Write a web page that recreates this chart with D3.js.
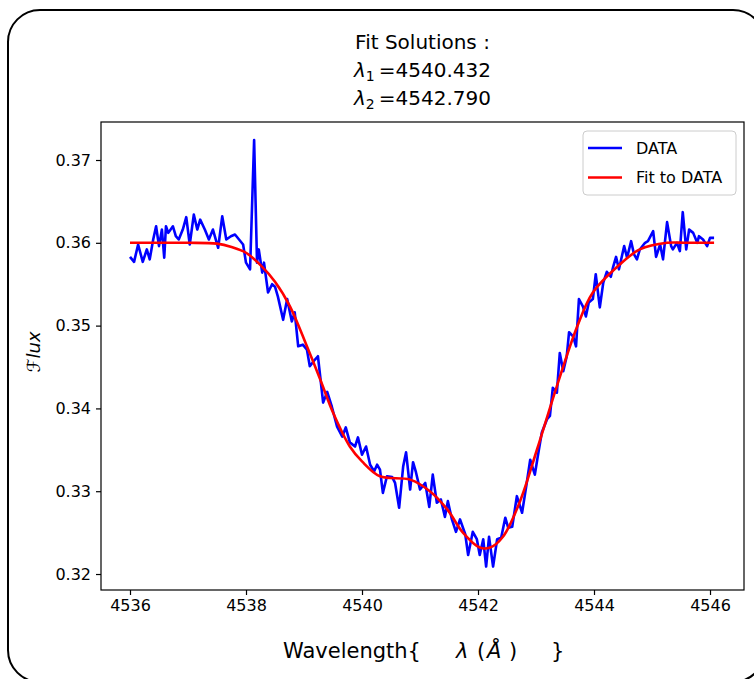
<!DOCTYPE html>
<html><head><meta charset="utf-8">
<script src="https://cdnjs.cloudflare.com/ajax/libs/d3/7.8.5/d3.min.js"></script>
<style>body{margin:0;background:#fff}svg{display:block}text{font-family:"DejaVu Sans",sans-serif;fill:#000}</style>
</head><body><svg id="c" width="754" height="679"></svg>
<script>
const dataWavelength = [4536.00,4536.07,4536.14,4536.22,4536.29,4536.34,4536.40,4536.45,4536.50,4536.55,4536.59,4536.62,4536.66,4536.74,4536.79,4536.84,4536.91,4536.97,4537.03,4537.10,4537.16,4537.21,4537.29,4537.36,4537.43,4537.52,4537.59,4537.66,4537.74,4537.81,4537.88,4537.95,4538.00,4538.07,4538.14,4538.19,4538.22,4538.28,4538.31,4538.38,4538.45,4538.50,4538.55,4538.64,4538.71,4538.79,4538.84,4538.90,4538.98,4539.05,4539.10,4539.19,4539.24,4539.33,4539.40,4539.48,4539.57,4539.66,4539.72,4539.79,4539.88,4539.93,4540.00,4540.07,4540.14,4540.21,4540.26,4540.31,4540.36,4540.43,4540.52,4540.57,4540.64,4540.71,4540.76,4540.83,4540.88,4540.93,4541.00,4541.09,4541.16,4541.22,4541.29,4541.36,4541.43,4541.48,4541.55,4541.62,4541.69,4541.78,4541.83,4541.91,4541.98,4542.03,4542.09,4542.14,4542.19,4542.26,4542.33,4542.40,4542.47,4542.52,4542.59,4542.67,4542.76,4542.84,4542.90,4542.98,4543.03,4543.10,4543.19,4543.24,4543.29,4543.36,4543.41,4543.47,4543.53,4543.57,4543.64,4543.69,4543.74,4543.81,4543.86,4543.91,4543.98,4544.03,4544.10,4544.16,4544.22,4544.29,4544.33,4544.38,4544.43,4544.52,4544.57,4544.64,4544.69,4544.74,4544.79,4544.88,4544.93,4545.02,4545.07,4545.14,4545.19,4545.26,4545.33,4545.36,4545.43,4545.48,4545.53,4545.59,4545.64,4545.71,4545.78,4545.81,4545.88,4545.95,4546.00,4546.07];
const dataFlux = [0.3583,0.3577,0.3598,0.3577,0.3592,0.3580,0.3604,0.3620,0.3596,0.3616,0.3582,0.3620,0.3612,0.3620,0.3608,0.3604,0.3616,0.3631,0.3598,0.3634,0.3616,0.3628,0.3616,0.3604,0.3616,0.3594,0.3632,0.3604,0.3608,0.3610,0.3604,0.3598,0.3576,0.3568,0.3724,0.3576,0.3592,0.3564,0.3576,0.3540,0.3550,0.3547,0.3535,0.3507,0.3532,0.3505,0.3516,0.3475,0.3477,0.3471,0.3451,0.3459,0.3463,0.3407,0.3420,0.3402,0.3378,0.3366,0.3377,0.3359,0.3354,0.3365,0.3344,0.3354,0.3332,0.3324,0.3332,0.3326,0.3298,0.3318,0.3317,0.3310,0.3280,0.3330,0.3347,0.3302,0.3335,0.3323,0.3302,0.3310,0.3281,0.3320,0.3286,0.3290,0.3269,0.3288,0.3266,0.3251,0.3266,0.3248,0.3223,0.3251,0.3242,0.3223,0.3242,0.3209,0.3245,0.3209,0.3242,0.3244,0.3268,0.3256,0.3257,0.3294,0.3274,0.3310,0.3338,0.3320,0.3342,0.3371,0.3387,0.3391,0.3425,0.3419,0.3467,0.3445,0.3463,0.3492,0.3487,0.3475,0.3532,0.3523,0.3511,0.3528,0.3532,0.3562,0.3522,0.3552,0.3565,0.3559,0.3571,0.3583,0.3568,0.3596,0.3582,0.3602,0.3586,0.3580,0.3592,0.3600,0.3602,0.3614,0.3583,0.3598,0.3580,0.3625,0.3596,0.3592,0.3600,0.3590,0.3637,0.3592,0.3616,0.3612,0.3600,0.3608,0.3604,0.3596,0.3606,0.3606];
const fitWavelength = [4536.00,4536.50,4537.00,4537.50,4537.75,4538.00,4538.25,4538.50,4538.76,4539.05,4539.28,4539.50,4539.79,4540.00,4540.31,4540.83,4541.17,4541.47,4541.74,4542.03,4542.21,4542.43,4542.72,4543.02,4543.36,4543.71,4543.98,4544.40,4544.79,4545.26,4545.60,4546.07];
const fitFlux = [0.3600,0.3600,0.3600,0.3599,0.3595,0.3588,0.3573,0.3553,0.3523,0.3475,0.3435,0.3395,0.3354,0.3336,0.3318,0.3314,0.3300,0.3278,0.3250,0.3232,0.3232,0.3245,0.3287,0.3351,0.3427,0.3499,0.3540,0.3571,0.3592,0.3600,0.3600,0.3600];
const xTicks = [4536, 4538, 4540, 4542, 4544, 4546];
const yTicks = [0.32, 0.33, 0.34, 0.35, 0.36, 0.37];
const fitSolutions = [4540.432, 4542.790];
const seriesNames = ["DATA", "Fit to DATA"];
const seriesColors = ["#0000ff", "#ff0000"];

const svg = d3.select("#c");
const W = 754, H = 679;
const P = {left: 101, right: 744, top: 122, bottom: 590};

svg.append("rect").attr("width", W).attr("height", H).attr("fill", "#fff");
// outer rounded frame
svg.append("rect").attr("x", 8).attr("y", 10).attr("width", 757).attr("height", 672)
  .attr("rx", 32).attr("ry", 32).attr("fill", "none").attr("stroke", "#000").attr("stroke-width", 2);

const x = d3.scaleLinear().domain([4535.5, 4546.586]).range([P.left, P.right]);
const y = d3.scaleLinear().domain([0.31807, 0.37459]).range([P.bottom, P.top]);

const xAxis = svg.append("g").attr("transform", `translate(0,${P.bottom})`)
  .call(d3.axisBottom(x).tickValues(xTicks).tickFormat(d3.format("d")).tickSize(5).tickSizeOuter(0).tickPadding(5));
const yAxis = svg.append("g").attr("transform", `translate(${P.left},0)`)
  .call(d3.axisLeft(y).tickValues(yTicks).tickFormat(d3.format(".2f")).tickSize(5).tickSizeOuter(0).tickPadding(5));
[xAxis, yAxis].forEach(g => {
  g.select(".domain").remove();
  g.selectAll("line").attr("stroke", "#000").attr("stroke-width", 1.2);
  g.selectAll("text").attr("font-family", "DejaVu Sans").attr("font-size", 16).attr("fill", "#000");
});

const lineGen = d3.line().x(d => x(d[0])).y(d => y(d[1]));
svg.append("path").datum(dataWavelength.map((w, i) => [w, dataFlux[i]]))
  .attr("d", lineGen).attr("fill", "none").attr("stroke", seriesColors[0])
  .attr("stroke-width", 2.6).attr("stroke-linejoin", "round");
svg.append("path").datum(fitWavelength.map((w, i) => [w, fitFlux[i]]))
  .attr("d", lineGen.curve(d3.curveCatmullRom.alpha(0.5))).attr("fill", "none").attr("stroke", seriesColors[1])
  .attr("stroke-width", 2.6);

// plot frame
svg.append("rect").attr("x", P.left).attr("y", P.top).attr("width", P.right - P.left).attr("height", P.bottom - P.top)
  .attr("fill", "none").attr("stroke", "#000").attr("stroke-width", 1.2);

// title
const cx = (P.left + P.right) / 2;
svg.append("text").attr("x", cx).attr("y", 49).attr("text-anchor", "middle").attr("font-size", 20).text("Fit Solutions :");
fitSolutions.forEach((v, i) => {
  const t = svg.append("text").attr("x", cx).attr("y", 77 + i * 28).attr("text-anchor", "middle").attr("font-size", 20);
  t.append("tspan").attr("font-style", "italic").text("λ");
  t.append("tspan").attr("font-size", 14).attr("dy", 4).text(String(i + 1));
  t.append("tspan").attr("dy", -4).text("\u2009=" + v.toFixed(3));
});

// x label
const xl = svg.append("g").attr("font-size", 21);
xl.append("text").attr("x", 283).attr("y", 658).text("Wavelength{");
xl.append("text").attr("x", 456).attr("y", 658).attr("font-style", "italic").text("λ");
xl.append("text").attr("x", 477).attr("y", 658).text("(");
xl.append("text").attr("x", 487).attr("y", 658).attr("font-style", "italic").text("Å");
xl.append("text").attr("x", 509).attr("y", 658).text(")");
xl.append("text").attr("x", 551).attr("y", 658).text("}");

// y label
const yl = svg.append("text").attr("transform", "translate(40,352) rotate(-90)").attr("text-anchor", "middle").attr("font-size", 18);
yl.append("tspan").text("ℱ");
yl.append("tspan").attr("font-style", "italic").text("lux");

// legend
const lg = svg.append("g");
lg.append("rect").attr("x", 583).attr("y", 131).attr("width", 153).attr("height", 64).attr("rx", 4)
  .attr("fill", "#fff").attr("fill-opacity", 0.8).attr("stroke", "#cccccc").attr("stroke-width", 1);
seriesNames.forEach((n, i) => {
  const yy = 148 + i * 29.5;
  lg.append("line").attr("x1", 588).attr("x2", 622).attr("y1", yy).attr("y2", yy)
    .attr("stroke", seriesColors[i]).attr("stroke-width", 2.6);
  lg.append("text").attr("x", 636).attr("y", yy).attr("dy", "0.36em").attr("font-size", 16).text(n);
});
</script></body></html>
